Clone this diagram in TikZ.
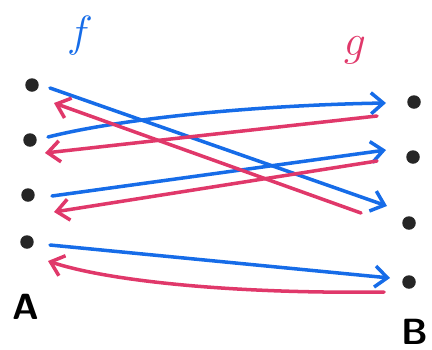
\documentclass[tikz,border=0pt]{standalone}
\usepackage{tikz}
\usetikzlibrary{arrows.meta, calc}

\definecolor{fblue}{RGB}{22,108,232}
\definecolor{gred}{RGB}{224,56,106}

\begin{document}
\begin{tikzpicture}[
  x=0.02cm, y=-0.02cm,
  dot/.style={circle, fill=black!85, inner sep=0pt, minimum size=0.27cm},
  fmap/.style={draw=fblue, line width=2pt, line cap=round, -{Straight Barb[length=7pt, width=12pt]}},
  gmap/.style={draw=gred, line width=2pt, line cap=round, -{Straight Barb[length=7pt, width=12pt]}},
  lbl/.style={font=\huge\sffamily\bfseries}
]
\useasboundingbox (0,0) rectangle (432,349);

% Left dots (A)
\node[dot] (a1) at (32,85) {};
\node[dot] (a2) at (30,140) {};
\node[dot] (a3) at (28,195) {};
\node[dot] (a4) at (27,242) {};

% Right dots (B)
\node[dot] (b1) at (414,102) {};
\node[dot] (b2) at (413,157) {};
\node[dot] (b3) at (409,223) {};
\node[dot] (b4) at (409,282) {};

% Labels
\node[lbl] (A) at (26,307) {A};
\node[lbl] (B) at (415,332) {B};
\node[font=\fontsize{30}{32}\selectfont, text=fblue] (f) at (80,36) {\(f\)};
\node[font=\fontsize{30}{32}\selectfont, text=gred] (g) at (355,50) {\(g\)};

% f : A -> B
\draw[fmap] ($(a1)+(18,3)$) -- ($(b3)+(-22,-17)$);
\draw[fmap] ($(a2)+(18,-3)$) .. controls +(80,-20) and +(-120,2) .. ($(b1)+(-28,1)$);
\draw[fmap] ($(a3)+(24,1)$) -- ($(b2)+(-27,-7)$);
\draw[fmap] ($(a4)+(23,3)$) -- ($(b4)+(-19,-4)$);

% g : B -> A
\draw[gmap] ($(b1)+(-37,14)$) -- ($(a2)+(15,13)$);
\draw[gmap] ($(b2)+(-36,4)$) -- ($(a3)+(26,17)$);
\draw[gmap] ($(b3)+(-48,-10)$) -- ($(a1)+(22,18)$);
\draw[gmap] ($(b4)+(-25,10)$) .. controls +(-150,2) and +(60,20) .. ($(a4)+(21,19)$);
\end{tikzpicture}
\end{document}
